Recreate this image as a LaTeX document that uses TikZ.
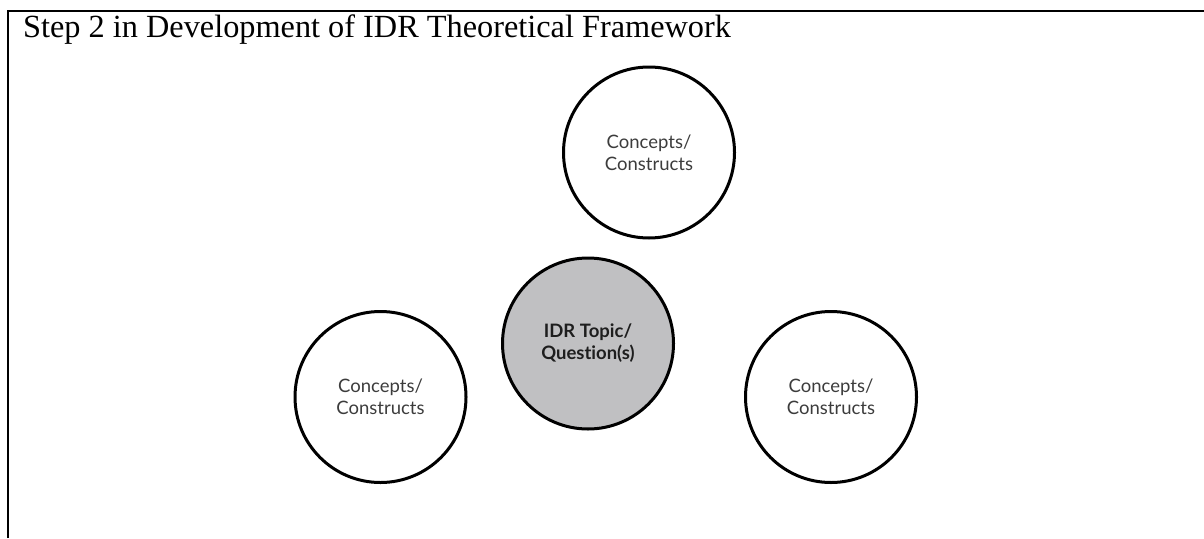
\documentclass[tikz,border=0pt]{standalone}
\usepackage{fontspec}
\setmainfont{Liberation Serif}
\newfontfamily\circfont[Ligatures=NoCommon]{Lato}
\definecolor{cfill}{RGB}{192,192,194}
\definecolor{ctext}{RGB}{60,60,60}
\definecolor{btext}{RGB}{30,30,30}
\begin{document}
\begin{tikzpicture}[x=1pt,y=-1pt,
  concept/.style={circle,draw=black,line width=3pt,minimum size=171pt,inner sep=0pt,
    align=center,text=ctext,font=\circfont\fontsize{18.5}{22}\selectfont},
  topic/.style={concept,fill=cfill,text=btext,font=\circfont\bfseries\fontsize{18.5}{22}\selectfont},
  frame/.style={line width=2.4pt}]
\useasboundingbox (0,0) rectangle (1204,538);
\coordinate (fbl) at (8,538);
\coordinate (ftl) at (8,11);
\coordinate (ftr) at (1204,11);
\draw[frame] (fbl) -- (ftl) -- (ftr);
\node[anchor=base west,font=\fontsize{32.3}{36}\selectfont,inner sep=0pt] (title) at (23,37) {Step 2 in Development of IDR Theoretical Framework};
\node[concept] (top) at (649,152.5) {Concepts/\\Constructs};
\node[topic] (center) at (588,343.5) {IDR Topic/\\Question(s)};
\node[concept] (left) at (380.5,397) {Concepts/\\Constructs};
\node[concept] (right) at (831,397) {Concepts/\\Constructs};
\end{tikzpicture}
\end{document}
